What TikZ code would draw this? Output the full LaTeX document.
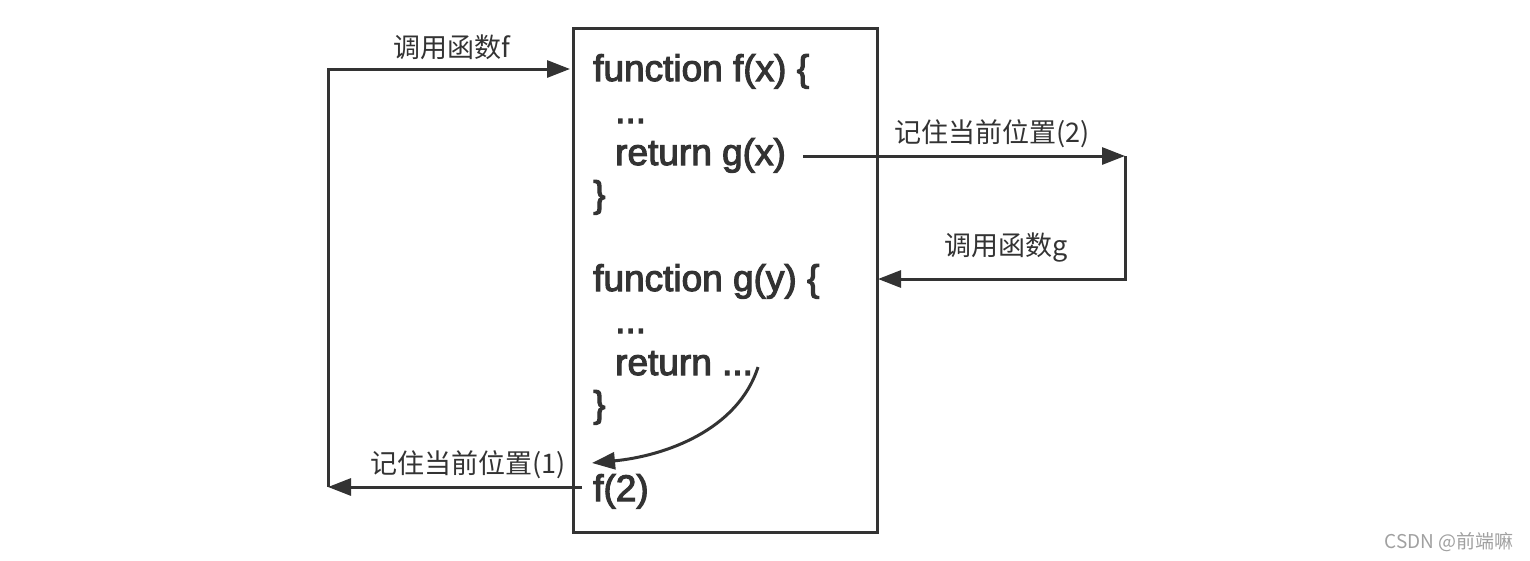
\documentclass[tikz,border=0pt]{standalone}
\usepackage{fontspec}
\setmainfont{Liberation Sans}
\newfontfamily\cjk{Noto Sans CJK SC}
\newfontfamily\codefont[RawFeature={embolden=3}]{Liberation Sans}
\usetikzlibrary{arrows.meta}
\definecolor{ink}{HTML}{333333}
\definecolor{mark}{HTML}{A0A0A0}
\tikzset{
  code/.style={anchor=base west, inner sep=0pt, text=ink, font=\codefont\fontsize{37}{40}\selectfont},
  lbl/.style={inner sep=0pt, text=ink, font=\cjk\fontsize{27}{30}\selectfont},
  conn/.style={draw=ink, line width=3pt, -{Triangle[length=23pt,width=17pt]}},
}
\begin{document}
\begin{tikzpicture}[x=1pt,y=-1pt]
\useasboundingbox (0,0) rectangle (1530,560);
\node[draw=ink, line width=3pt, minimum width=304pt, minimum height=504pt, inner sep=0pt, anchor=north west] (box) at (572,27) {};
% code lines
\node[code] (l1) at (593,81) {function f(x) \{};
\node[code] (l2) at (615,123) {...};
\node[code] (l3) at (615,165) {return g(x)};
\node[code] (l4) at (593,207) {\}};
\node[code] (l5) at (593,291) {function g(y) \{};
\node[code] (l6) at (615,333) {...};
\node[code] (l7) at (615,375) {return ...};
\node[code] (l8) at (593,417) {\}};
\node[code] (l9) at (593,501) {f(2)};
% labels
\node[lbl] (t1) at (452,47) {调用函数f};
\node[lbl] (t2) at (992,134) {记住当前位置(2)};
\node[lbl] (t3) at (1006,248) {调用函数g};
\node[lbl] (t4) at (468,465) {记住当前位置(1)};
\node[inner sep=0pt, text=mark, font=\cjk\fontsize{19}{22}\selectfont] (wm) at (1449,542) {CSDN @前端嘛};
% connector points
\coordinate (gs) at (803,156);
\coordinate (gr) at (1125,156);
\coordinate (gin) at (878,279);
\coordinate (rs) at (758,367);
\coordinate (re) at (592,463);
\coordinate (fs) at (582,487);
\coordinate (fl) at (328,487);
\coordinate (fin) at (570,69);
% connectors
\draw[conn] (gs) -- (gr);
\draw[conn] (gr) |- (gin);
\draw[conn] (rs) .. controls (738,430) and (665,456) .. (re);
\draw[conn] (fs) -- (fl);
\draw[conn] (fl) |- (fin);
\end{tikzpicture}
\end{document}
